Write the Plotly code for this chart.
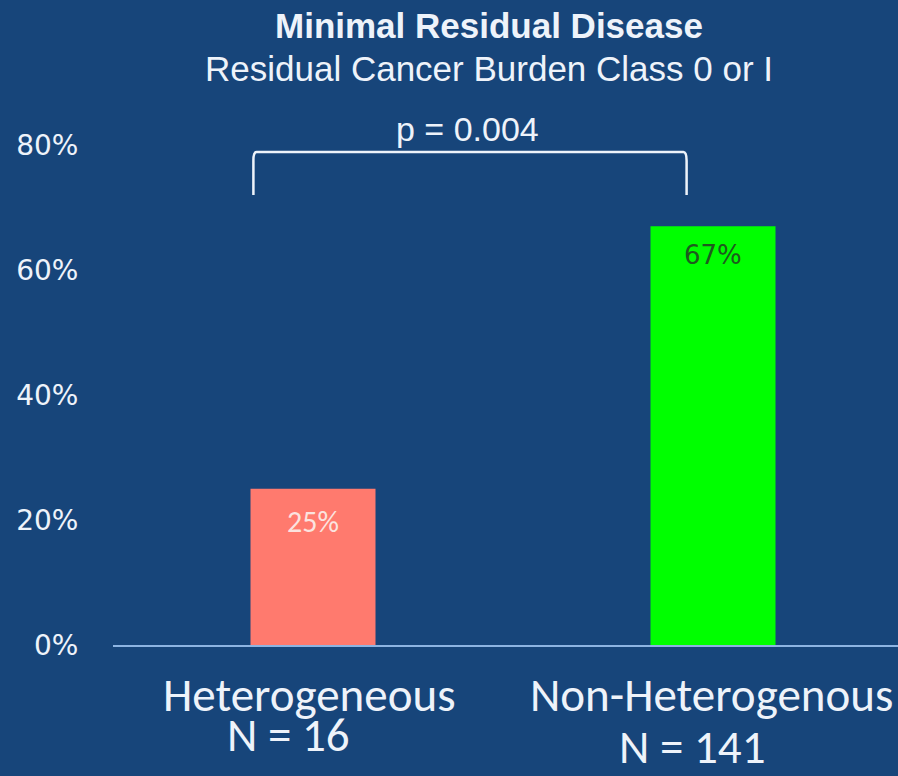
import plotly.graph_objects as go

# Data
categories = ["Heterogeneous", "Non-Heterogenous"]
n_labels = ["N = 16", "N = 141"]
mrd_rate = [0.25, 0.67]
bar_colors = ["#FF7A6E", "#00FF00"]
value_text_colors = ["#FBE3DF", "#1E5A1E"]
title_text = "<b>Minimal Residual Disease</b>"
subtitle_text = "Residual Cancer Burden Class 0 or I"
p_value_text = "p = 0.004"
y_ticks = [0, 0.2, 0.4, 0.6, 0.8]

BG = "#17457A"
LIGHT = "#EEF3FA"
AXIS_LINE = "#8DB4E2"
NARROW = "Carlito, 'Liberation Sans Narrow', sans-serif"
ARIAL = "'Liberation Sans', Arial, sans-serif"
ROUND = "'DejaVu Sans', sans-serif"

x_idx = list(range(len(categories)))

fig = go.Figure()
fig.add_trace(go.Bar(
    x=x_idx,
    y=mrd_rate,
    width=0.3125,
    marker=dict(color=bar_colors, line=dict(width=0)),
    hoverinfo="skip",
))

# Value labels just inside the top of each bar
value_fonts = [dict(family=NARROW, size=30, color=value_text_colors[0]),
               dict(family=ROUND, size=26, color=value_text_colors[1])]
for i, v in enumerate(mrd_rate):
    fig.add_annotation(x=i, y=v, xref="x", yref="y", text=f"{v:.0%}",
                       showarrow=False, yanchor="top", yshift=-12,
                       font=value_fonts[i])

# Significance bracket between the two groups
x0, x1 = -0.149, 0.934
ytop, ybot = 0.789, 0.72
rx, ry = 0.008, 0.014
path = (f"M {x0},{ybot} L {x0},{ytop - ry} Q {x0},{ytop} {x0 + rx},{ytop} "
        f"L {x1 - rx},{ytop} Q {x1},{ytop} {x1},{ytop - ry} L {x1},{ybot}")
fig.add_shape(type="path", path=path, xref="x", yref="y",
              line=dict(color=LIGHT, width=2.5))

fig.add_annotation(x=0.385, y=0.825, xref="x", yref="y", text=p_value_text,
                   showarrow=False, font=dict(family=ARIAL, size=34, color=LIGHT))

# Heading lines above the plot area
fig.add_annotation(x=0.479, y=1.136, xref="paper", yref="paper", text=title_text,
                   showarrow=False, yanchor="middle",
                   font=dict(family=ARIAL, size=35, color=LIGHT))
fig.add_annotation(x=0.479, y=1.058, xref="paper", yref="paper", text=subtitle_text,
                   showarrow=False, yanchor="middle",
                   font=dict(family=ARIAL, size=35, color=LIGHT))

# Category names and group sizes below the axis
cat_shift = [(-4, -50), (-2, -50)]
n_shift = [(-25, -90), (-21, -102)]
for i in x_idx:
    fig.add_annotation(x=i, y=0, xref="x", yref="y", text=categories[i],
                       showarrow=False, xshift=cat_shift[i][0], yshift=cat_shift[i][1],
                       font=dict(family=NARROW, size=47, color=LIGHT))
    fig.add_annotation(x=i, y=0, xref="x", yref="y", text=n_labels[i],
                       showarrow=False, xshift=n_shift[i][0], yshift=n_shift[i][1],
                       font=dict(family=NARROW, size=47, color=LIGHT))

fig.update_layout(
    width=898, height=776,
    margin=dict(l=113, r=0, t=100, b=131),
    paper_bgcolor=BG, plot_bgcolor=BG,
    showlegend=False,
    xaxis=dict(
        range=[-0.5, 1.4625],
        showline=True, linecolor=AXIS_LINE, linewidth=2,
        showticklabels=False, ticks="",
        showgrid=False, zeroline=False, fixedrange=True,
    ),
    yaxis=dict(
        range=[0, 0.872],
        tickmode="array", tickvals=y_ticks, tickformat=".0%",
        ticks="outside", ticklen=28, tickcolor=BG,
        tickfont=dict(family=ROUND, size=28, color=LIGHT),
        showgrid=False, zeroline=False, showline=False, fixedrange=True,
    ),
)

fig.write_html("out.html")
